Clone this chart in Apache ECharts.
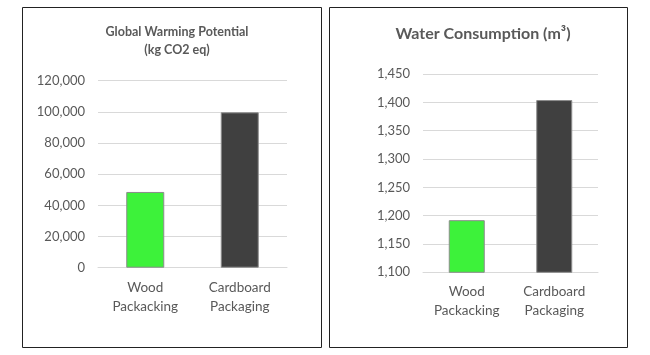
<!DOCTYPE html>
<html>
<head>
<meta charset="utf-8">
<script src="https://cdn.jsdelivr.net/npm/echarts@6/dist/echarts.min.js"></script>
<style>html,body{margin:0;padding:0;background:#fff;}#c{width:650px;height:355px;}</style>
</head>
<body>
<div id="c"></div>
<script>
const categories = ['Wood\nPackacking', 'Cardboard\nPackaging'];
const gwpValues = [48600, 99700];
const waterValues = [1192, 1404];
const barColors = ['#3df23a', '#404040'];
const gwpTitle = 'Global Warming Potential\n(kg CO2 eq)';
const waterTitle = 'Water Consumption (m³)';

const FONT = 'Lato, "Liberation Sans", sans-serif';
const TXT = '#595959';
const chart = echarts.init(document.getElementById('c'), null, {renderer: 'canvas'});
function fmt(v){ return v.toLocaleString('en-US'); }
function barData(vals){
  return vals.map((v,i)=>({value:v, itemStyle:{color:barColors[i], borderColor:'#8c8c8c', borderWidth:1}}));
}
const catAxis = (gi) => ({
  type:'category', gridIndex:gi, data:categories,
  axisLine:{lineStyle:{color:'#d9d9d9'}}, axisTick:{show:false},
  axisLabel:{color:TXT, fontFamily:FONT, fontSize:13.5, lineHeight:19, margin:10, interval:0}
});
const valAxis = (gi, min, max, interval) => ({
  type:'value', gridIndex:gi, min, max, interval,
  axisLine:{show:false}, axisTick:{show:false},
  splitLine:{lineStyle:{color:'#d9d9d9'}},
  axisLabel:{color:TXT, fontFamily:FONT, fontSize:13, margin:13, formatter:fmt}
});
chart.setOption({
  animation:false,
  graphic:[
    {type:'rect', shape:{x:22.5, y:7.5, width:299, height:340}, style:{fill:'none', stroke:'#222', lineWidth:1}},
    {type:'rect', shape:{x:329.5, y:7.5, width:298, height:340}, style:{fill:'none', stroke:'#222', lineWidth:1}}
  ],
  title:[
    {text:gwpTitle, left:172, textAlign:'center', top:18,
     textStyle:{color:TXT, fontFamily:FONT, fontSize:12.5, fontWeight:'bold', lineHeight:18}},
    {text:waterTitle, left:478, textAlign:'center', top:21,
     textStyle:{color:TXT, fontFamily:FONT, fontSize:16, fontWeight:'bold'}}
  ],
  grid:[
    {left:98, right:363, top:80.7, bottom:87.3},
    {left:423, right:52, top:74, bottom:82.7}
  ],
  xAxis:[catAxis(0), catAxis(1)],
  yAxis:[valAxis(0, 0, 120000, 20000), valAxis(1, 1100, 1450, 50)],
  series:[
    {type:'bar', xAxisIndex:0, yAxisIndex:0, barWidth:38, data:barData(gwpValues)},
    {type:'bar', xAxisIndex:1, yAxisIndex:1, barWidth:36, data:barData(waterValues)}
  ]
});
</script>
</body>
</html>
